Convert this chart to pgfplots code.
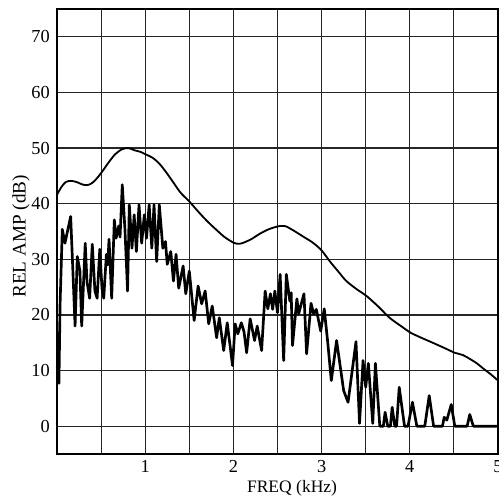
\documentclass[border=0pt]{standalone}
\usepackage{pgfplots}
\pgfplotsset{compat=1.18}
\usepackage{fontspec}
\setmainfont{Liberation Serif}

% narrow-band harmonic spectrum (dB)
\pgfplotstableread{
f a
0.000 17.0
0.008 10.0
0.014 16.0
0.022 7.7
0.035 22.0
0.050 30.0
0.060 35.4
0.090 32.9
0.155 37.7
0.180 27.9
0.205 18.0
0.230 30.5
0.260 27.9
0.280 18.0
0.320 32.9
0.340 26.0
0.370 23.0
0.400 32.7
0.430 24.3
0.455 23.0
0.485 31.8
0.510 24.8
0.530 23.0
0.560 30.9
0.575 29.0
0.590 33.6
0.620 23.0
0.650 37.1
0.670 33.8
0.700 36.0
0.715 34.0
0.740 43.4
0.770 35.5
0.800 24.3
0.820 39.8
0.850 32.0
0.875 38.0
0.900 31.4
0.930 39.8
0.960 32.9
0.990 38.0
1.015 33.8
1.045 39.8
1.075 32.0
1.100 39.8
1.130 29.6
1.160 39.8
1.200 32.0
1.230 33.2
1.250 29.1
1.290 31.4
1.320 26.1
1.350 30.9
1.380 24.8
1.430 28.8
1.460 23.8
1.500 27.9
1.555 19.0
1.600 25.2
1.640 22.0
1.680 24.3
1.720 18.4
1.760 21.6
1.810 15.9
1.840 19.5
1.890 13.6
1.930 18.6
1.990 10.9
2.020 18.4
2.050 16.6
2.090 18.6
2.120 17.0
2.150 13.2
2.190 19.3
2.240 15.4
2.270 18.0
2.320 13.6
2.360 24.3
2.390 21.1
2.420 23.8
2.445 21.0
2.470 24.3
2.500 20.4
2.530 27.3
2.570 11.8
2.600 27.3
2.640 22.5
2.655 24.0
2.670 14.5
2.720 22.9
2.740 20.2
2.800 23.8
2.830 13.0
2.880 22.1
2.910 20.2
2.940 21.0
2.990 17.1
3.030 21.1
3.070 15.0
3.110 8.2
3.170 15.4
3.250 6.4
3.300 4.3
3.390 15.2
3.430 0.5
3.470 11.8
3.500 7.0
3.530 11.3
3.580 0.5
3.610 11.3
3.660 0.0
3.700 0.0
3.720 2.5
3.750 0.0
3.780 0.0
3.800 3.4
3.830 0.0
3.850 0.0
3.880 7.0
3.940 0.0
3.980 0.0
4.030 4.3
4.080 0.0
4.170 0.0
4.220 5.5
4.270 0.0
4.370 0.0
4.390 1.6
4.420 1.1
4.470 3.9
4.510 0.0
4.650 0.0
4.680 2.1
4.720 0.0
5.000 0.0
}\harmonics

% smoothed spectral envelope (dB)
\pgfplotstableread{
f a
0.00 41.6
0.05 43.0
0.10 43.9
0.16 44.1
0.22 43.9
0.30 43.4
0.36 43.4
0.42 44.0
0.50 45.5
0.58 47.3
0.66 48.9
0.74 49.8
0.81 50.0
0.88 49.6
0.95 49.3
1.00 48.9
1.08 48.3
1.16 47.2
1.24 45.6
1.32 43.8
1.40 42.0
1.50 40.4
1.60 38.6
1.70 36.9
1.80 35.4
1.90 34.0
2.00 33.0
2.05 32.8
2.10 32.9
2.20 33.6
2.30 34.6
2.40 35.4
2.50 35.9
2.55 36.0
2.60 35.9
2.70 35.0
2.80 34.0
2.90 33.0
3.00 31.6
3.10 29.5
3.20 27.6
3.28 26.1
3.40 24.6
3.51 23.4
3.65 21.4
3.77 19.5
3.90 18.0
4.01 16.8
4.13 15.9
4.26 15.0
4.40 14.0
4.51 13.2
4.60 12.8
4.68 12.1
4.76 11.3
4.83 10.4
4.92 9.3
5.00 8.2
}\envelope

\begin{document}
\begin{tikzpicture}
\begin{axis}[
  name=ax,
  scale only axis,
  width=264.6pt, height=267pt,
  xmin=0, xmax=5, ymin=-5, ymax=75,
  xtick={1,2,3,4,5},
  minor xtick={0.5,1.5,2.5,3.5,4.5},
  ytick={0,10,...,70},
  grid=both,
  major grid style={black!85, line width=0.7pt},
  minor grid style={black!85, line width=0.7pt},
  major tick length=0pt, minor tick length=0pt,
  axis line style={line width=1pt},
  font=\fontsize{10.5}{12}\selectfont,
  /pgf/number format/assume math mode=true,
  ticklabel style={font=\fontsize{11}{12}\selectfont},
  yticklabel style={xshift=-0.8pt},
  xticklabel style={yshift=-0.5pt},
  xlabel={FREQ (kHz)},
  ylabel={REL AMP (dB)},
  xlabel style={at={(axis description cs:0.533,0)}, anchor=center, yshift=-20.4pt},
  ylabel style={at={(axis description cs:-0.0816,0.489)}, anchor=center, font=\fontsize{11.5}{13}\selectfont},
  clip=true,
]
\addplot[black, line width=1.6pt, line join=round] table[x=f, y=a] {\harmonics};
\addplot[black, line width=1.1pt, line join=round, smooth] table[x=f, y=a] {\envelope};
\end{axis}
\pgfresetboundingbox
\path ([xshift=-34.2pt, yshift=-26.4pt]ax.south west) rectangle ([xshift=0.6pt, yshift=5.4pt]ax.north east);
\end{tikzpicture}
\end{document}
